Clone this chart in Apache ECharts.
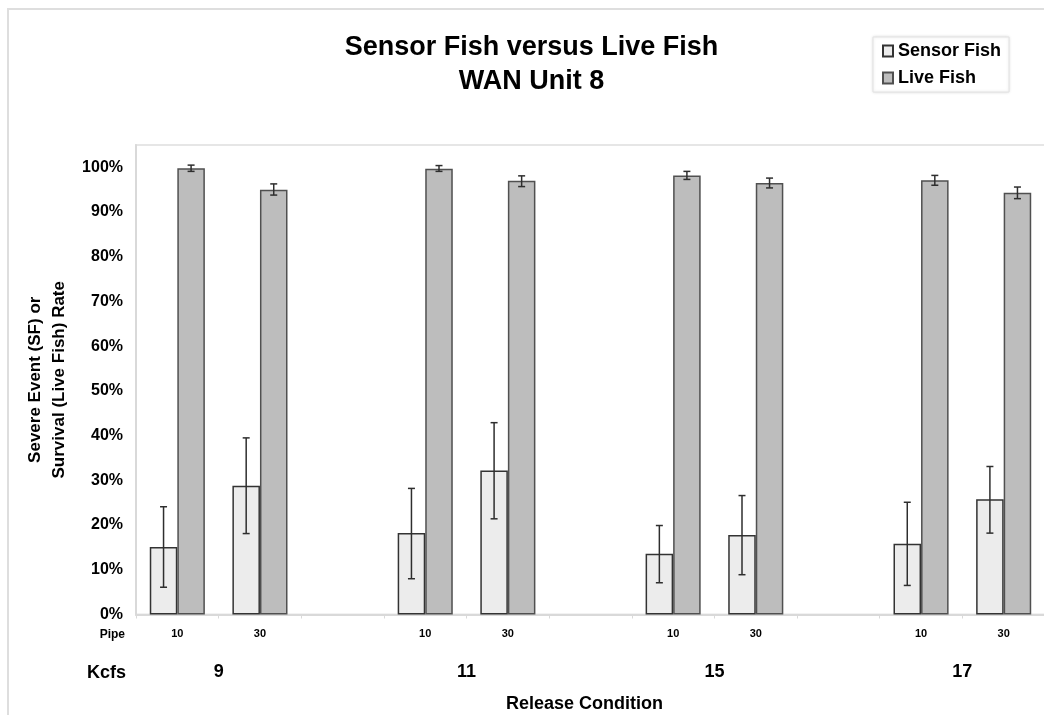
<!DOCTYPE html>
<html>
<head>
<meta charset="utf-8">
<title>Sensor Fish versus Live Fish - WAN Unit 8</title>
<script src="https://cdn.jsdelivr.net/npm/echarts@6/dist/echarts.min.js"></script>
<style>
  html, body { margin: 0; padding: 0; background: #ffffff; }
  #chart { width: 1044px; height: 715px; }
</style>
</head>
<body>
<div id="chart"></div>
<script>
// Release conditions: discharge groups (Kcfs) and pipe settings within each group
const kcfsLabels = ['9', '11', '15', '17'];
const pipeLabels = ['10', '30'];

// Sensor Fish severe-event rate (%), in order 9/10, 9/30, 11/10, 11/30, 15/10, 15/30, 17/10, 17/30
const sensorRate = [15.1, 28.8, 18.2, 32.2, 13.6, 17.8, 15.8, 25.8];
const sensorLow  = [6.1, 18.1, 8.0, 21.4, 7.1, 8.9, 6.5, 18.2];
const sensorHigh = [24.1, 39.5, 28.2, 42.9, 19.9, 26.6, 25.1, 33.1];

// Live Fish survival rate (%), same order
const liveRate = [99.8, 95.0, 99.7, 97.0, 98.2, 96.5, 97.1, 94.3];
const liveLow  = [99.1, 93.8, 99.1, 95.7, 97.3, 95.4, 96.0, 93.0];
const liveHigh = [100.5, 96.3, 100.4, 98.1, 99.1, 97.6, 98.2, 95.6];

// Y axis tick values (%)
const yTicks = [0, 10, 20, 30, 40, 50, 60, 70, 80, 90, 100];

const FONT = "'Liberation Sans', Arial, Helvetica, sans-serif";
const BAR_FRACTION = 1 / 3; // share of a category band taken by one bar

// Build the slotted category axis: two pipe slots per group, one empty slot between groups
const slotLabels = [];
const slotIndexOf = []; // data position -> slot index
kcfsLabels.forEach((k, g) => {
  pipeLabels.forEach(p => {
    slotIndexOf.push(slotLabels.length);
    slotLabels.push(p);
  });
  if (g < kcfsLabels.length - 1) slotLabels.push('');
});

// Group labels sit on the boundary between the two pipe slots of each group
const groupAxisLabels = new Array(slotLabels.length + 1).fill('');
kcfsLabels.forEach((k, g) => {
  groupAxisLabels[slotIndexOf[g * pipeLabels.length] + 1] = k;
});

function toSlots(values) {
  const out = new Array(slotLabels.length).fill(null);
  values.forEach((v, i) => { out[slotIndexOf[i]] = v; });
  return out;
}

function errorData(lows, highs, side) {
  return lows.map((lo, i) => [slotIndexOf[i], lo, highs[i], side]);
}

function renderErrorBar(params, api) {
  const idx = api.value(0);
  const lo = api.coord([idx, api.value(1)]);
  const hi = api.coord([idx, api.value(2)]);
  const band = api.size([1, 0])[0];
  const x = lo[0] + api.value(3) * band * BAR_FRACTION / 2;
  const cap = 3.5;
  const style = { stroke: '#2e2e2e', lineWidth: 1.5 };
  return {
    type: 'group',
    children: [
      { type: 'line', shape: { x1: x, y1: hi[1], x2: x, y2: lo[1] }, style },
      { type: 'line', shape: { x1: x - cap, y1: hi[1], x2: x + cap, y2: hi[1] }, style },
      { type: 'line', shape: { x1: x - cap, y1: lo[1], x2: x + cap, y2: lo[1] }, style }
    ]
  };
}

const chart = echarts.init(document.getElementById('chart'), null, { renderer: 'canvas' });

chart.setOption({
  backgroundColor: '#ffffff',
  animation: false,
  textStyle: { fontFamily: FONT },
  title: {
    text: 'Sensor Fish versus Live Fish\nWAN Unit 8',
    left: 531.5,
    top: 31,
    padding: 0,
    textAlign: 'center',
    textStyle: {
      fontFamily: FONT, fontSize: 27, fontWeight: 'bold', color: '#000', lineHeight: 34
    }
  },
  legend: {
    orient: 'vertical',
    left: 873,
    top: 37,
    padding: [5, 8, 5, 9],
    itemGap: 9,
    itemWidth: 10,
    itemHeight: 11,
    icon: 'rect',
    backgroundColor: '#ffffff',
    borderColor: '#e2e2e2',
    borderWidth: 1,
    shadowColor: 'rgba(0,0,0,0.12)',
    shadowBlur: 3,
    textStyle: { fontFamily: FONT, fontSize: 18, fontWeight: 'bold', color: '#000' },
    data: ['Sensor Fish', 'Live Fish']
  },
  grid: {
    left: 136,
    right: -1,
    top: 145,
    bottom: 100.5,
    show: true,
    borderColor: '#e6e6e6',
    borderWidth: 2,
    outerBoundsMode: 'none',
    containLabel: false
  },
  xAxis: [
    {
      type: 'category',
      data: slotLabels,
      position: 'bottom',
      axisLine: { show: true, lineStyle: { color: '#d9d9d9', width: 2 } },
      axisTick: { show: true, length: 4, lineStyle: { color: '#d9d9d9' } },
      axisLabel: {
        interval: 0, margin: 14,
        fontFamily: FONT, fontSize: 11, fontWeight: 'bold', color: '#000'
      },
      splitLine: { show: false }
    },
    {
      type: 'category',
      data: groupAxisLabels,
      boundaryGap: false,
      position: 'bottom',
      axisLine: { show: false },
      axisTick: { show: false },
      axisLabel: {
        interval: 0, margin: 49,
        fontFamily: FONT, fontSize: 18, fontWeight: 'bold', color: '#000'
      },
      splitLine: { show: false },
      name: 'Release Condition',
      nameLocation: 'middle',
      nameGap: 81,
      nameMoveOverlap: false,
      nameTextStyle: {
        fontFamily: FONT, fontSize: 18, fontWeight: 'bold', color: '#000',
        padding: [0, 12, 0, 0]
      }
    }
  ],
  yAxis: {
    type: 'value',
    min: yTicks[0],
    max: 105,
    interval: yTicks[1] - yTicks[0],
    axisLine: { show: true, lineStyle: { color: '#d9d9d9', width: 2 } },
    axisTick: { show: false },
    splitLine: { show: false },
    axisLabel: {
      margin: 13,
      fontFamily: FONT, fontSize: 16, fontWeight: 'bold', color: '#000',
      formatter: v => (yTicks.indexOf(v) >= 0 ? v + '%' : '')
    },
    name: 'Severe Event (SF) or\nSurvival (Live Fish) Rate',
    nameLocation: 'middle',
    nameGap: 65,
    nameMoveOverlap: false,
    nameTextStyle: {
      fontFamily: FONT, fontSize: 17, fontWeight: 'bold', color: '#000', lineHeight: 24
    }
  },
  series: [
    {
      name: 'Sensor Fish',
      type: 'bar',
      xAxisIndex: 0,
      barWidth: (BAR_FRACTION * 100) + '%',
      barGap: '0%',
      itemStyle: { color: '#ececec', borderColor: '#333333', borderWidth: 1.5 },
      data: toSlots(sensorRate)
    },
    {
      name: 'Live Fish',
      type: 'bar',
      xAxisIndex: 0,
      barWidth: (BAR_FRACTION * 100) + '%',
      barGap: '0%',
      itemStyle: { color: '#bdbdbd', borderColor: '#505050', borderWidth: 1.5 },
      data: toSlots(liveRate)
    },
    {
      name: 'Sensor Fish error',
      type: 'custom',
      xAxisIndex: 0,
      renderItem: renderErrorBar,
      encode: { x: 0, y: [1, 2] },
      clip: false,
      z: 5,
      data: errorData(sensorLow, sensorHigh, -1)
    },
    {
      name: 'Live Fish error',
      type: 'custom',
      xAxisIndex: 0,
      renderItem: renderErrorBar,
      encode: { x: 0, y: [1, 2] },
      clip: false,
      z: 5,
      data: errorData(liveLow, liveHigh, 1)
    }
  ],
  graphic: [
    {
      type: 'rect',
      z: -10,
      silent: true,
      shape: { x: 8, y: 9, width: 1100, height: 800 },
      style: { fill: 'none', stroke: '#dedede', lineWidth: 2 }
    },
    {
      type: 'text',
      right: 1044 - 125,
      top: 629,
      style: { text: 'Pipe', fontFamily: FONT, fontSize: 12, fontWeight: 'bold', fill: '#000' }
    },
    {
      type: 'text',
      right: 1044 - 126,
      top: 664,
      style: { text: 'Kcfs', fontFamily: FONT, fontSize: 18, fontWeight: 'bold', fill: '#000' }
    }
  ]
});
</script>
</body>
</html>
